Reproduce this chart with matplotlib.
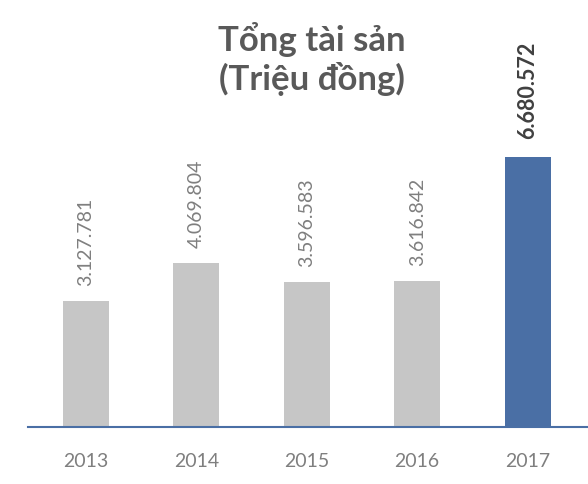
import matplotlib.pyplot as plt
import numpy as np

years = ['2013', '2014', '2015', '2016', '2017']
values = [3127781, 4069804, 3596583, 3616842, 6680572]
labels = ['3.127.781', '4.069.804', '3.596.583', '3.616.842', '6.680.572']
colors = ['#c6c6c6', '#c6c6c6', '#c6c6c6', '#c6c6c6', '#4a6fa5']

plt.rcParams['font.family'] = ['Lato', 'DejaVu Sans']

fig = plt.figure(figsize=(5.88, 4.84), dpi=100)
ax = fig.add_axes([28 / 588, 57 / 484, 560 / 588, 427 / 484])

x = np.arange(len(years))
ax.bar(x, values, width=0.417, color=colors)
ax.set_xlim(-0.525, 4.547)
ax.set_ylim(0, 10.57e6)

for i, (v, lab) in enumerate(zip(values, labels)):
    if i == len(values) - 1:
        ax.annotate(lab, (i, v), xytext=(0, 13), textcoords='offset points',
                    rotation=90, ha='center', va='bottom', fontsize=15.5,
                    color='#404040', fontweight='bold')
    else:
        ax.annotate(lab, (i, v), xytext=(0, 10.5), textcoords='offset points',
                    rotation=90, ha='center', va='bottom', fontsize=14,
                    color='#7f7f7f')

ax.set_xticks(x)
ax.set_xticklabels(years, fontsize=14, color='#7f7f7f')
ax.tick_params(axis='x', length=0, pad=19)
ax.set_yticks([])
for s in ['top', 'right', 'left']:
    ax.spines[s].set_visible(False)
ax.spines['bottom'].set_color('#4a6fa5')
ax.spines['bottom'].set_linewidth(1.5)

fig.text(312 / 588, 1 - 59 / 484, 'Tổng tài sản\n(Triệu đồng)', ha='center', va='center',
         fontsize=25, fontweight='bold', color='#595959', linespacing=1.2)

fig.savefig('out.png', dpi=100)
